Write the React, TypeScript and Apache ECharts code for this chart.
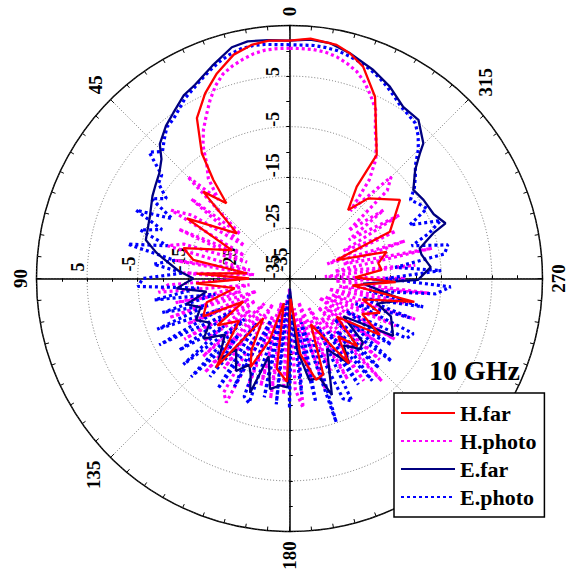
import React, { useEffect, useRef } from 'react';
import * as echarts from 'echarts';

const CX = 289.5;
const CY = 278.5;
const R = 253;
const FONT = '"Liberation Serif", "Times New Roman", serif';

const angleLabels = [0, 45, 90, 135, 180, 225, 270, 315];
const radiusLabels = [-35, -25, -15, -5, 5];
const R_MIN = -35;
const R_MAX = 15;

const hFarAngles = [0, 5, 9, 14, 19.5, 24.5, 30, 35, 37.7, 40, 44.8, 49.4, 59.6, 63.8, 74, 79, 83, 87, 90, 93, 100, 106, 113.7, 116.7, 123, 130, 140.4, 146.6, 152, 156.3, 162, 167, 172, 178.6, 183, 188, 194.7, 199.4, 205, 214.9, 220, 225, 231, 238, 244, 249.2, 254, 259.4, 263.7, 268, 271, 275.3, 279.7, 285.4, 291.4, 295, 305.4, 315.5, 319.4, 323.8, 324.8, 330.3, 334.8, 340.8, 345, 348.6, 355, 360];
const hFarValues = [12.0, 12.2, 11.8, 10.6, 8.0, 5.2, 1.6, -4.8, -10.4, -15.6, -10.8, -21.3, -11.5, -22.3, -13.2, -15.6, -26.5, -16.6, -27, -16.5, -24, -18, -16.4, -24.8, -18, -22, -12.2, -25.6, -19, -15.9, -22, -30, -17, -14.6, -31, -20, -14.3, -14.9, -25, -14.5, -20, -16, -23, -14, -19, -15.9, -20, -9.9, -22.5, -14, -22, -16.7, -17.2, -15.1, -25, -13.1, -8.2, -12.8, -17.2, -12.5, -5.1, -0.5, 4.7, 9.3, 11.1, 12.1, 12.6, 12.0];

const eFarAngles = [0, 5, 10, 14, 20, 26, 30, 35, 39, 44, 47, 51, 55, 59, 66, 75, 79, 81, 86, 90, 95, 99, 104, 108, 114, 119, 125, 131, 139, 143, 150, 155, 158, 161, 165, 170, 175, 179, 182, 186, 191, 197, 200, 208, 215, 219, 225, 229, 235, 241, 249.5, 254, 259.3, 266, 269.4, 274.6, 280.3, 283, 287.5, 289.5, 294, 300.4, 305.6, 310.8, 313.8, 315.3, 320.9, 326.5, 332.4, 338.1, 345, 350.2, 355, 360];
const eFarValues = [12.0, 12.3, 12.6, 12.1, 9.7, 7.6, 6.8, 5.0, 3.8, 1.9, -0.4, -1.9, -2.7, -3.4, -4.8, -5.6, -8.2, -9.7, -13, -16, -12.6, -18.4, -14, -16.5, -14.8, -17, -14.3, -18.1, -13.6, -17.5, -13.9, -16.2, -14.5, -11.1, -19.1, -12.8, -13.8, -13.5, -33, -21, -14.6, -14.4, -10.5, -19.2, -14.5, -18, -15.3, -15.8, -22, -11.6, -13.6, -17, -12.1, -20.4, -9.6, -7.0, -8.5, -8.6, -5.2, -2.3, -3.8, -4.3, -4.9, -2.2, 0.7, 2.6, 5.4, 5.7, 7.8, 9.4, 11.1, 12.2, 12.4, 12.0];

// photo-derived patterns, sampled every 3 degrees from 0 to 360
const photoAngles = [0, 3, 6, 9, 12, 15, 18, 21, 24, 27, 30, 33, 36, 39, 42, 45, 48, 51, 54, 57, 60, 63, 66, 69, 72, 75, 78, 81, 84, 87, 90, 93, 96, 99, 102, 105, 108, 111, 114, 117, 120, 123, 126, 129, 132, 135, 138, 141, 144, 147, 150, 153, 156, 159, 162, 165, 168, 171, 174, 177, 180, 183, 186, 189, 192, 195, 198, 201, 204, 207, 210, 213, 216, 219, 222, 225, 228, 231, 234, 237, 240, 243, 246, 249, 252, 255, 258, 261, 264, 267, 270, 273, 276, 279, 282, 285, 288, 291, 294, 297, 300, 303, 306, 309, 312, 315, 318, 321, 324, 327, 330, 333, 336, 339, 342, 345, 348, 351, 354, 357, 360];

const hPhotoValues = [
  10.5, 10.5, 10.4, 10.0, 9.3, 8.5, 7.5, 5.8, 3.6, 1.2,
  -1.0, -3.6, -7.2, -9.5, -14, -6.5, -22, -10, -24, -12,
  -8, -25, -11, -26, -13, -10, -27, -12, -28, -14,
  -26, -11, -9, -27, -12, -25, -10, -28, -13, -26,
  -11, -27, -14, -25, -12, -28, -10, -26, -13, -29,
  -9, -7.5, -27, -12, -30, -13, -28, -11, -31, -12,
  -33, -13, -9.3, -29, -14, -27, -12, -30, -15, -26,
  -12, -28, -10, -25, -7.7, -27, -11, -26, -13, -28,
  -11, -27, -12, -26, -8.9, -27, -11, -25, -7.3, -26,
  -12, -28, -10, -26, -6.2, -24, -11, -27, -12, -23,
  -10, -21, -12, -20, -9, -6.6, -17, -10, -6.0, -3.5,
  -1.1, 2.5, 4.5, 6.5, 8.0, 9.0, 9.8, 10.3, 10.5, 10.5, 10.5
];

const ePhotoValues = [
  11.2, 11.3, 11.5, 11.6, 11.4, 10.8, 10.0, 9.0, 8.0, 7.0,
  6.2, 5.0, 4.0, 3.5, 2.0, 0.5, 2.3, -2.5, -3.0, -6,
  -3.5, -9, -1.8, -8, -4, -10, -2.3, -12, -8, -14,
  -6, -5, -17, -8, -20, -9, -18, -7, -20, -6.1,
  -22, -9, -19, -8, -23, -7.5, -20, -10, -24, -9,
  -22, -11, -26, -10, -9.1, -27, -11, -30, -10, -32,
  -9.3, -28, -12, -25, -10, -26, -5.1, -22, -9, -7.8,
  -24, -10, -22, -9, -21, -10, -23, -9, -20, -11,
  -22, -9, -8.2, -21, -10, -20, -8, -19, -6, -3.1,
  -16, -5, -14, -4, -3.0, -10, -6, -3, -9, -4.5,
  -5.5, -6.5, -4.5, -3, -1.5, 1, 3, 4.5, 5.0, 5.5,
  6.5, 7.5, 8.5, 9.3, 10.0, 10.5, 11.0, 11.2, 11.3, 11.2, 11.2
];

const seriesNames = ['H.far', 'H.photo', 'E.far', 'E.photo'];
const seriesColors = ['#ff0000', '#ff00ff', '#000080', '#0000ff'];

const toPolar = (angles: number[], values: number[]) => angles.map((a, i) => [values[i], a]);

const directions = [90, 180, 270, 0];

function buildOption() {
  const labelFmt = (v: number) => (radiusLabels.includes(v) ? String(v) : '');
  const polars: any[] = [];
  const angleAxes: any[] = [];
  const radiusAxes: any[] = [];
  for (let k = 0; k < 8; k++) {
    const dir = directions[k % 4];
    const inside = k >= 4;
    polars.push({ center: [CX, CY], radius: R });
    if (k === 0) {
      angleAxes.push({
        polarIndex: 0,
        type: 'value',
        min: 0,
        max: 360,
        interval: 45,
        startAngle: 90,
        clockwise: false,
        axisLine: { lineStyle: { color: '#000', width: 1.5 } },
        axisTick: { show: true, inside: true, length: 5, lineStyle: { color: '#000', width: 1 } },
        minorTick: { show: true, splitNumber: 9, length: 4, lineStyle: { color: '#000', width: 1 } },
        axisLabel: { show: false },
        splitLine: { show: true, lineStyle: { color: '#555', width: 0.8, type: [1, 2] } },
        z: 0,
      });
    } else {
      angleAxes.push({
        polarIndex: k,
        type: 'value',
        min: 0,
        max: 360,
        startAngle: dir,
        clockwise: false,
        show: false,
      });
    }
    const showLabels = !inside && (dir === 90 || dir === 180);
    radiusAxes.push({
      polarIndex: k,
      type: 'value',
      min: R_MIN,
      max: R_MAX,
      interval: 10,
      axisLine: { show: !inside, lineStyle: { color: '#000', width: 1.5 } },
      axisTick: { show: true, inside, length: 3, lineStyle: { color: '#000', width: 1 } },
      minorTick: { show: true, splitNumber: 2, length: 3, lineStyle: { color: '#000', width: 1 } },
      splitLine: k === 0
        ? { show: true, lineStyle: { color: '#555', width: 0.8, type: [1, 2] } }
        : { show: false },
      axisLabel: showLabels
        ? {
            show: true,
            rotate: 90,
            align: 'left',
            verticalAlign: 'bottom',
            margin: dir === 90 ? 8 : -7,
            fontFamily: FONT,
            fontWeight: 'bold',
            fontSize: 18,
            color: '#000',
            formatter: labelFmt,
          }
        : { show: false },
      z: 1,
    });
  }

  const angleText = angleLabels.map((a) => {
    const t = (a * Math.PI) / 180;
    const ux = -Math.sin(t);
    const uy = -Math.cos(t);
    const txt = String(a);
    const half = Math.abs(ux) * 7 + Math.abs(uy) * (txt.length * 10) / 2;
    const d = R + 9 + half;
    return {
      type: 'text',
      x: CX + ux * d,
      y: CY + uy * d,
      rotation: Math.PI / 2,
      z: 1,
      style: {
        text: txt,
        align: 'center',
        verticalAlign: 'middle',
        fontFamily: FONT,
        fontWeight: 'bold',
        fontSize: 19,
        fill: '#000',
      },
    };
  });

  const line = (name: string, data: any[], color: string, dotted: boolean) => ({
    name,
    type: 'line',
    coordinateSystem: 'polar',
    polarIndex: 0,
    symbol: 'none',
    data,
    lineStyle: dotted
      ? { color, width: 3.2, type: [3, 3], cap: 'butt' }
      : { color, width: 2.3 },
    itemStyle: { color },
    z: 3,
  });

  const closedPhoto = (values: number[]) => photoAngles.map((a, i) => [values[i], a]);

  return {
    animation: false,
    backgroundColor: '#fff',
    title: {
      text: '10 GHz',
      left: 429,
      top: 356,
      padding: 0,
      textStyle: { fontFamily: FONT, fontWeight: 'bold', fontSize: 28, color: '#000' },
    },
    legend: {
      data: seriesNames,
      orient: 'vertical',
      left: 394,
      top: 393,
      padding: [9, 8, 9, 6],
      itemWidth: 54,
      itemHeight: 12,
      itemGap: 6,
      backgroundColor: '#fff',
      borderColor: '#000',
      borderWidth: 1.5,
      borderRadius: 0,
      itemStyle: { opacity: 0 },
      textStyle: { fontFamily: FONT, fontWeight: 'bold', fontSize: 22, lineHeight: 21, color: '#000' },
      z: 10,
    },
    polar: polars,
    angleAxis: angleAxes,
    radiusAxis: radiusAxes,
    graphic: angleText,
    series: [
      line('H.photo', closedPhoto(hPhotoValues), seriesColors[1], true),
      line('E.photo', closedPhoto(ePhotoValues), seriesColors[3], true),
      line('E.far', toPolar(eFarAngles, eFarValues), seriesColors[2], false),
      line('H.far', toPolar(hFarAngles, hFarValues), seriesColors[0], false),
    ],
  };
}

export default function App() {
  const ref = useRef<HTMLDivElement>(null);
  useEffect(() => {
    if (!ref.current) return;
    const chart = echarts.init(ref.current, undefined, { renderer: 'svg' });
    chart.setOption(buildOption() as any);
    return () => chart.dispose();
  }, []);
  return (
    <div
      ref={ref}
      style={{ position: 'absolute', left: 0, top: 0, width: 569, height: 569 }}
    />
  );
}
